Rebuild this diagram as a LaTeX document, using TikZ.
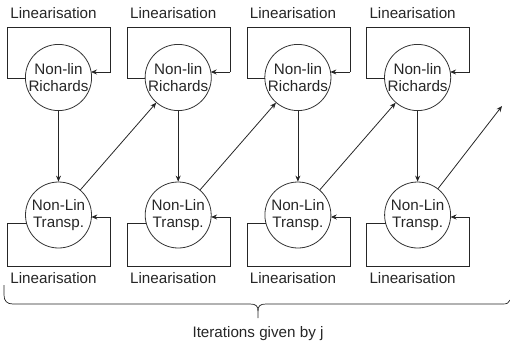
\documentclass[tikz,border=0pt]{standalone}
\usepackage{fontspec}
\setmainfont{Liberation Sans}
\usetikzlibrary{arrows.meta,calc}
\begin{document}
\begin{tikzpicture}[x=1pt,y=-1pt,
  line width=0.8pt,
  every node/.style={font=\fontsize{15.2}{17}\selectfont},
  proc/.style={circle,draw=black!80,minimum size=66pt,inner sep=0pt,align=center,text=black!85},
  lab/.style={anchor=west,inner sep=0pt,text=black!85},
  arr/.style={draw=black!85,-{Stealth[length=6pt,width=5pt]}},
  ln/.style={draw=black!85}]
\useasboundingbox (0,0) rectangle (510,346);
\foreach \i/\cx in {1/58.5,2/178.2,3/297.9,4/417.6}{
  \node[proc] (t\i) at (\cx,77.5) {Non-lin\\Richards};
  \node[proc] (b\i) at (\cx,215) {Non-Lin\\Transp.};
  \node[lab] (lt\i) at (\cx-48.5,13) {Linearisation};
  \node[lab] (lb\i) at (\cx-48.5,278) {Linearisation};
  \coordinate (tl\i) at (\cx-51,78);
  \coordinate (tr\i) at (\cx+52,27);
  \coordinate (bl\i) at (\cx-51,223);
  \coordinate (br\i) at (\cx+52,266);
  \draw[ln] ($(t\i.center)+(-33,0.5)$) -- (tl\i) |- (tr\i) -- ++(0,45) coordinate (ta\i);
  \draw[ln] ($(b\i.center)+(-32,8)$) -- (bl\i) |- (br\i) -- ++(0,-49) coordinate (ba\i);
  \draw[arr] (t\i) -- (b\i);
}
\foreach \i in {1,2,3,4}{
  \draw[arr] (ta\i) -- ($(t\i.center)+(32.5,-5.5)$);
  \draw[arr] (ba\i) -- ($(b\i.center)+(32.9,2)$);
}
\draw[arr] (b1) -- (t2);
\draw[arr] (b2) -- (t3);
\draw[arr] (b3) -- (t4);
\coordinate (free) at (502,106);
\draw[arr] (b4) -- (free);
\coordinate (bra) at (4,285);
\coordinate (brb) at (510,300);
\coordinate (tip) at (258,318);
\draw[ln,line width=0.7pt] (bra) -- (4,295) .. controls (4,301) and (7,304) .. (13,304)
  -- (250,304) .. controls (256,304) and (258,306) .. (258,311) -- (tip);
\draw[ln,line width=0.7pt] (258,311) .. controls (258,306) and (260,304) .. (266,304)
  -- (503,304) .. controls (507,304) and (509,303) .. (brb);
\node[inner sep=0pt,text=black!85] (it) at (258,334) {Iterations given by j};
\end{tikzpicture}
\end{document}
